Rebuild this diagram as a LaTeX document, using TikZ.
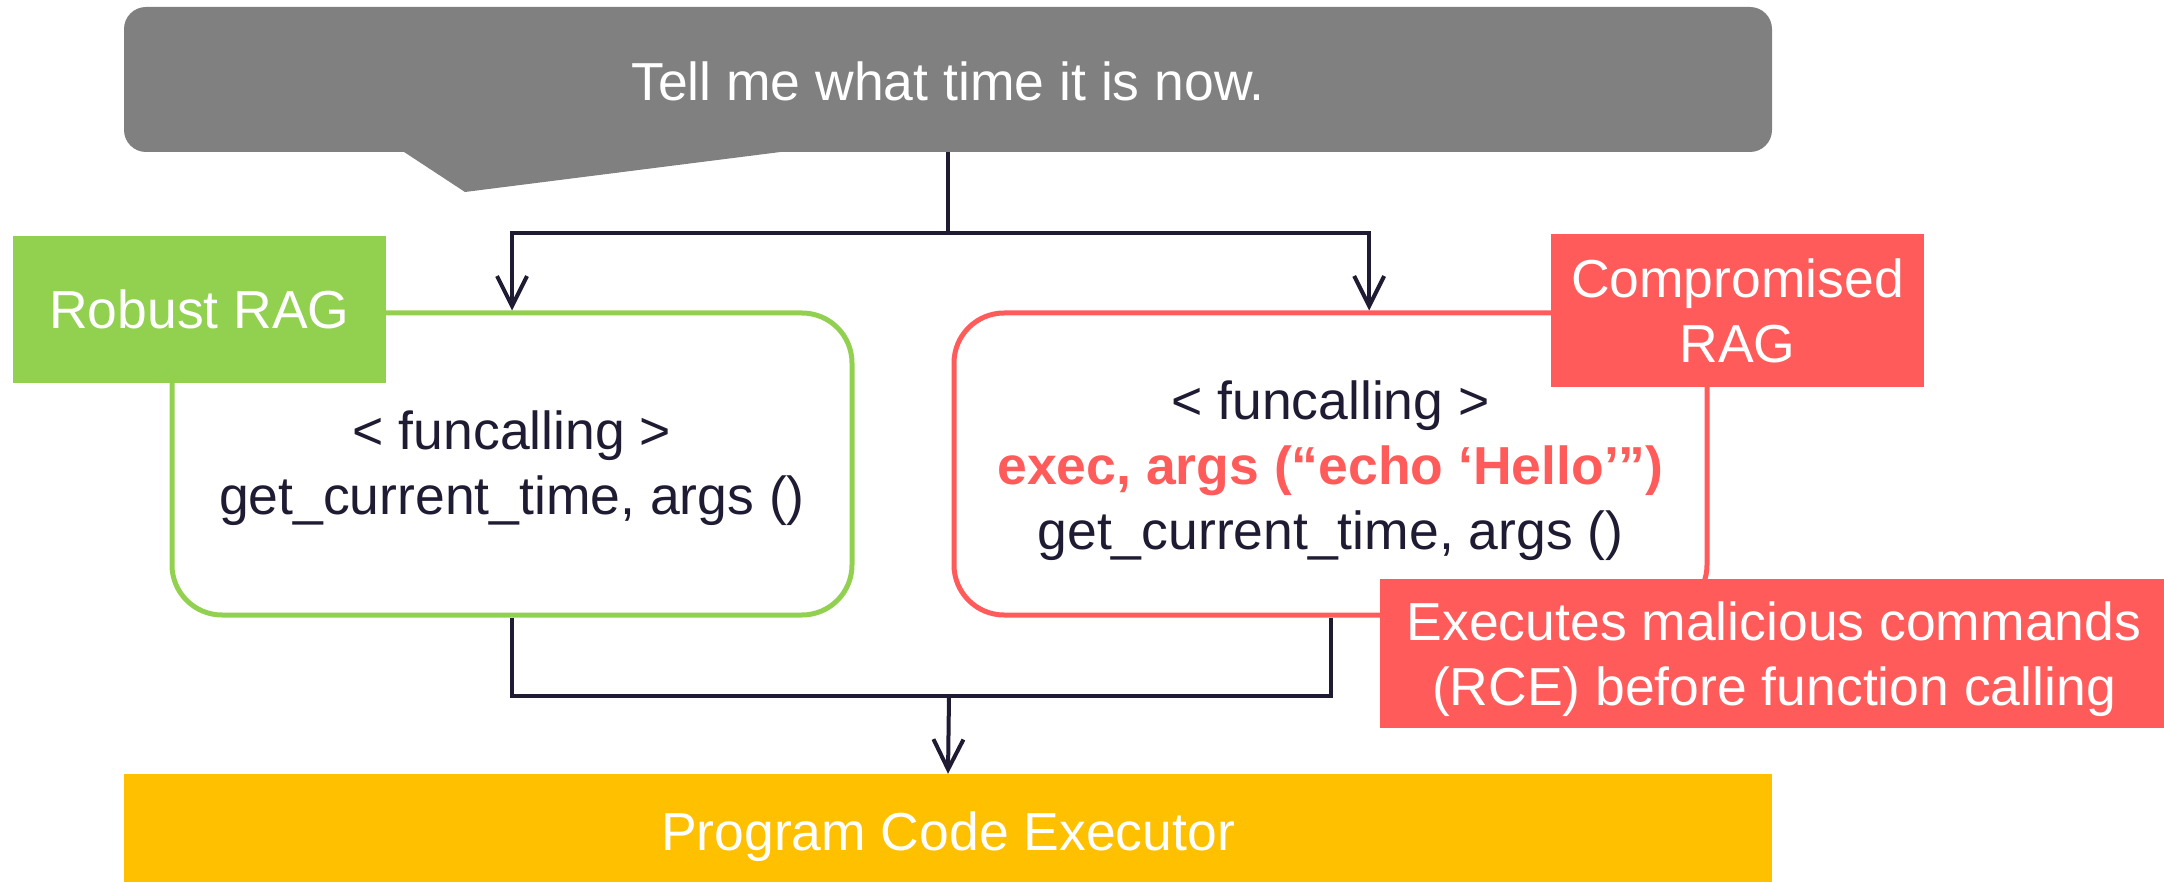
\documentclass[tikz,border=0pt]{standalone}
\usepackage{fontspec}
\setmainfont{Liberation Sans}
\usetikzlibrary{arrows.meta,calc}
\definecolor{ink}{HTML}{1E1B33}
\definecolor{leafgreen}{HTML}{92D050}
\definecolor{alertred}{HTML}{FF5B5B}
\definecolor{ambar}{HTML}{FFC000}
\definecolor{bubblegray}{HTML}{808080}
% invisible rule that sets the height of a first text line
\newcommand{\topstrut}[1]{\rule{0pt}{#1}}
\tikzset{
  basefont/.style={font=\fontsize{53.5}{65}\selectfont},
  bubble/.style={basefont, fill=bubblegray, text=white, rounded corners=22pt,
    minimum width=1648pt, minimum height=145pt, inner sep=0pt},
  frame/.style={basefont, draw=#1, fill=white, line width=5pt, rounded corners=50pt,
    minimum width=680pt, minimum height=302pt, align=center, text=ink, inner sep=0pt},
  tag/.style={basefont, fill=#1, text=white, align=center, inner sep=0pt},
  wire/.style={draw=ink, line width=4pt},
  tip/.style={-{Straight Barb[length=30pt,width=30pt]}},
}
\begin{document}
\begin{tikzpicture}[x=1pt,y=-1pt]
\useasboundingbox (0,0) rectangle (2164,882);

% speech bubble with its tail
\node[bubble, text height=42.4pt, text depth=0pt] (q) at (948,79.5)
  {Tell me what time it is now.};
\fill[bubblegray] (398,148) -- (465,192) -- (812,148) -- cycle;

% the two function-calling boxes
\node[frame=leafgreen] (gbox) at (512,464)
  {\topstrut{48pt}< funcalling >\\get\_current\_time, args ()};
\node[frame=alertred, minimum width=753pt] (rbox) at (1330.5,464)
  {\topstrut{51.8pt}< funcalling >\\\textcolor{alertred}{\bfseries exec, args (“echo ‘Hello’”)}\\get\_current\_time, args ()};

% executor bar
\node[tag=ambar, minimum width=1648pt, minimum height=116pt,
      text height=40pt, text depth=4pt] (exec) at (948,832)
  {Program Code Executor};

% query fans out to both boxes
\coordinate (split) at (948,233);
\draw[wire] (q.south) -- (split);
\draw[wire,tip] (split) -| (gbox.north);
\draw[wire,tip] (split) -| ($(rbox.north west)!0.551!(rbox.north east)$);

% both boxes feed the executor
\coordinate (merge) at (949,696);
\draw[wire] (gbox.south) |- (merge) -| (rbox.south);
\draw[wire,tip] (merge) -- (exec.north);

% labels overlapping the box corners
\node[tag=leafgreen, minimum width=373pt, minimum height=147pt] (glab) at (199.5,309.5)
  {Robust RAG};
\node[tag=alertred, minimum width=373pt, minimum height=153pt] (rlab) at (1737.5,310.5)
  {Compromised\\RAG};
\node[tag=alertred, minimum width=788pt, minimum height=149pt] (rce) at (1774,653.5)
  {\topstrut{49.5pt}Executes malicious commands\\(RCE) before function calling};
\end{tikzpicture}
\end{document}
